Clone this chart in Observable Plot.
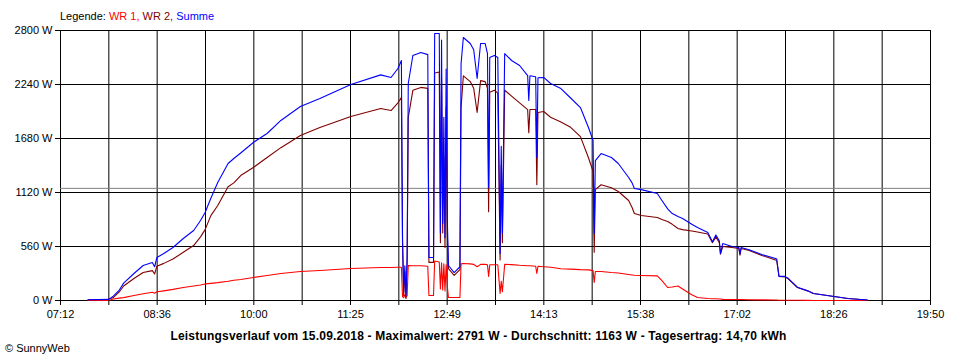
<!DOCTYPE html>
<html>
<head>
<meta charset="utf-8">
<script src="https://cdn.jsdelivr.net/npm/d3@7"></script>
<script src="https://cdn.jsdelivr.net/npm/@observablehq/plot@0.6"></script>
<style>
  html, body { margin: 0; padding: 0; background: white; }
  #wrap { position: relative; width: 960px; height: 360px; overflow: hidden;
          font-family: 'Liberation Sans', Arial, sans-serif; font-size: 11px; color: black; }
  #chart { position: absolute; left: 0; top: 0; }
  .txt { position: absolute; line-height: 13px; white-space: nowrap; }
</style>
</head>
<body>
<div id="wrap">
  <div id="chart"></div>
  <div class="txt" id="legend" style="left:60px; top:10px;"></div>
  <div class="txt" id="title" style="left:0; width:957px; top:330px; text-align:center; font-weight:bold; font-size:12px; letter-spacing:0.2px;"></div>
  <div class="txt" id="copy" style="left:5px; top:342px;"></div>
</div>
<script>
// ---- data (time in minutes after midnight, power in W) ----
const times = [456,474,478,483,487,496,504,512,514,516,522,530,539,548,554,558,563,569,578,583,589,600,612,624,641,658,685,711,720,726,729,730,731,732,733,734,735,739,746,752,753,757,758,762,763,764,765,766,767,768,769,770,775,780,781,783,789,792,795,798,802,804,805,806,810,813,815,816,817,819,825,832,839,840,841,846,847,848,853,859,868,876,885,892,896,897,898,903,912,918,927,930,932,938,952,956,961,965,970,974,982,987,996,1000,1003,1006,1007,1009,1017,1023,1024,1025,1032,1043,1055,1056,1058,1063,1066,1074,1083,1088,1106,1118,1135];
const wr1 = [0,0,15,25,30,52,70,85,75,90,100,115,135,150,160,172,178,185,200,210,218,239,260,280,300,311,332,342,342,345,345,40,30,60,31,50,363,360,360,355,52,52,410,400,120,390,110,380,100,370,150,31,31,31,380,384,380,375,350,375,375,370,250,370,370,370,73,200,90,375,372,365,360,360,360,355,280,355,350,345,330,325,320,318,310,187,300,300,290,285,270,265,262,259,255,207,135,140,150,120,60,31,21,18,18,15,15,12,10,10,10,10,8,6,5,5,3,2,2,2,1,0,0,0,0];
const wr2 = [8,12,30,86,150,228,290,310,275,356,385,430,500,570,660,735,880,985,1180,1220,1296,1379,1483,1585,1711,1794,1908,1991,1970,2050,2105,600,50,300,20,400,1900,2180,2210,2200,395,395,2360,2370,600,2300,700,1500,550,2000,700,330,260,320,2000,2330,2270,2200,1950,2280,2270,2200,920,2160,2180,2150,420,1400,600,2180,2120,2050,1980,1740,1980,1980,1200,1950,1960,1900,1850,1800,1700,1480,1340,500,1150,1200,1170,1130,1037,964,902,881,861,840,820,790,747,735,720,710,690,600,660,600,480,560,550,539,470,540,518,467,420,415,250,245,225,135,100,73,41,20,5];
const summe = [8,12,45,104,180,280,363,394,350,446,487,550,643,726,830,913,1060,1224,1421,1473,1530,1639,1732,1867,2012,2095,2240,2340,2313,2406,2489,640,80,360,50,450,2250,2541,2572,2550,446,446,2769,2769,700,2700,800,1900,653,2400,850,363,290,350,2458,2727,2665,2600,2302,2665,2665,2560,1172,2520,2541,2520,487,1600,700,2561,2489,2437,2333,2074,2330,2320,1483,2310,2313,2250,2198,2105,2001,1794,1659,695,1450,1524,1483,1421,1276,1220,1161,1150,1109,1037,950,902,871,851,790,757,705,610,680,620,487,591,560,550,480,550,526,477,436,430,250,250,230,138,100,73,41,20,5];

const xStart = 432, xEnd = 1190;            // 07:12 .. 19:50
const xLabels = ["07:12","08:36","10:00","11:25","12:49","14:13","15:38","17:02","18:26","19:50"];
const yTicks = [0, 560, 1120, 1680, 2240, 2800];
const yMax = 2800;
const average = 1163;

const seriesNames = ["WR 1", "WR 2", "Summe"];
const seriesColors = ["#ff0000", "#800000", "#0000ff"];
const titleText = "Leistungsverlauf vom 15.09.2018 - Maximalwert: 2791 W - Durchschnitt: 1163 W - Tagesertrag: 14,70 kWh";
const copyText = "\u00A9 SunnyWeb";

// ---- build ----
const rows = times.map((t, i) => ({t, wr1: wr1[i], wr2: wr2[i], summe: summe[i]}));
const nLab = xLabels.length - 1;
const gridX = d3.range(0, 2 * nLab + 1).map(k => xStart + k * (xEnd - xStart) / (2 * nLab));
const labelMap = new Map(gridX.map((v, k) => [v, k % 2 === 0 ? xLabels[k / 2] : ""]));

const chart = Plot.plot({
  width: 960,
  height: 360,
  marginLeft: 60,
  marginRight: 30,
  marginTop: 30,
  marginBottom: 60,
  style: {fontFamily: "'Liberation Sans', Arial, sans-serif", fontSize: "11px", color: "black", background: "white", overflow: "visible"},
  x: {domain: [xStart, xEnd]},
  y: {domain: [0, yMax]},
  marks: [
    Plot.ruleX(gridX, {stroke: "black", strokeWidth: 1}),
    Plot.ruleY(yTicks, {stroke: "black", strokeWidth: 1}),
    Plot.ruleY([average], {stroke: "#808080", strokeWidth: 1}),
    Plot.line(rows, {x: "t", y: "wr1", stroke: seriesColors[0], strokeWidth: 1.1}),
    Plot.line(rows, {x: "t", y: "wr2", stroke: seriesColors[1], strokeWidth: 1.1}),
    Plot.line(rows, {x: "t", y: "summe", stroke: seriesColors[2], strokeWidth: 1.1}),
    Plot.axisX({ticks: gridX, tickSize: 5, tickPadding: 5, tickFormat: d => labelMap.get(d) ?? "", label: null, stroke: "black"}),
    Plot.axisY({ticks: yTicks, tickSize: 5, tickPadding: 3, tickFormat: d => `${d} W`, label: null, stroke: "black"})
  ]
});
document.getElementById("chart").appendChild(chart);

const legend = document.getElementById("legend");
legend.appendChild(document.createTextNode("Legende: "));
seriesNames.forEach((n, i) => {
  const s = document.createElement("span");
  s.style.color = seriesColors[i];
  s.textContent = n + (i < seriesNames.length - 1 ? ", " : "");
  legend.appendChild(s);
});
document.getElementById("title").textContent = titleText;
document.getElementById("copy").textContent = copyText;
</script>
</body>
</html>
